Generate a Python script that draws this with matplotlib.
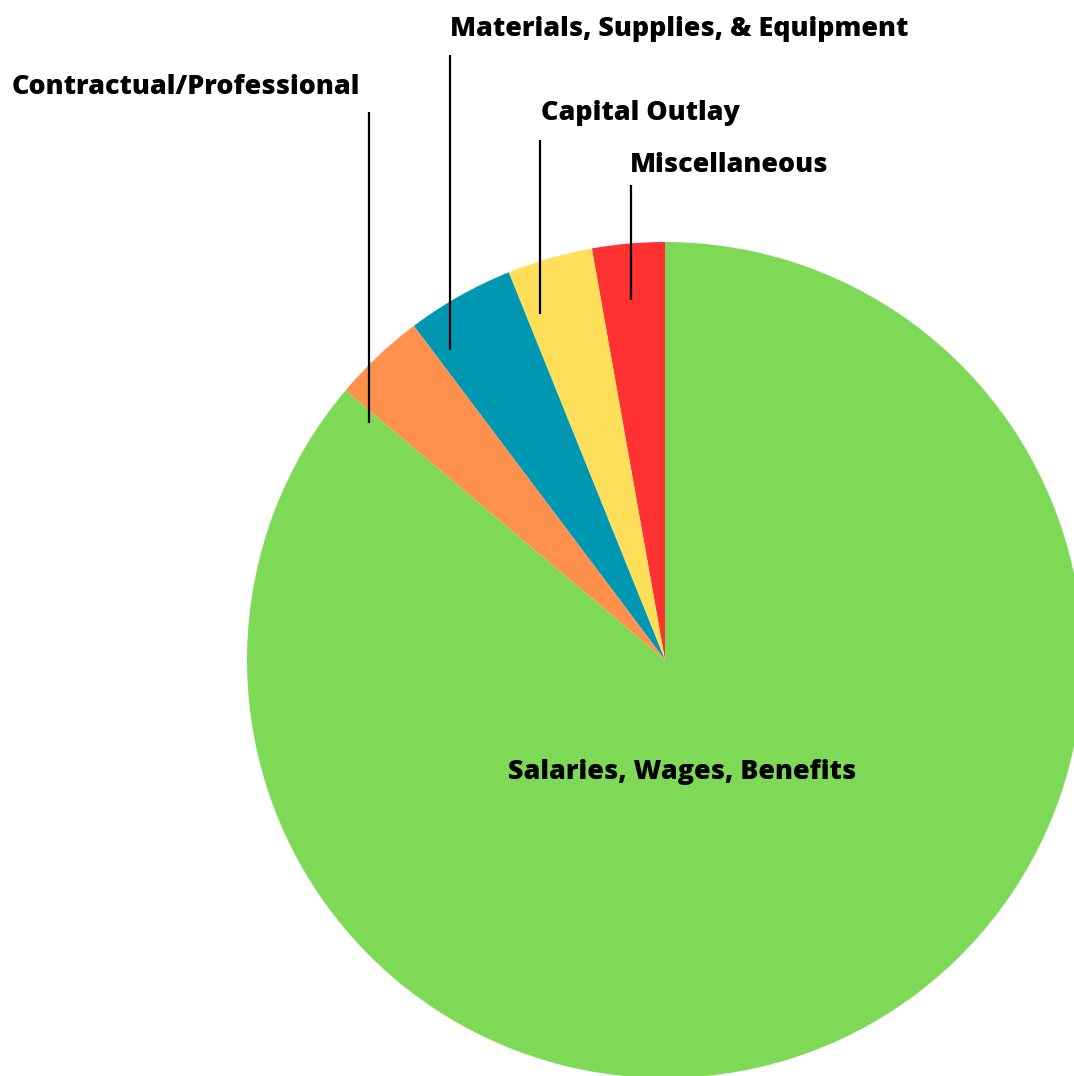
import matplotlib.pyplot as plt

# Budget shares (percent)
CATEGORIES = ['Miscellaneous', 'Capital Outlay', 'Materials, Supplies, & Equipment',
              'Contractual/Professional', 'Salaries, Wages, Benefits']
SHARES = [2.80, 3.30, 4.16, 3.59, 86.15]
COLORS = ['#FF3131', '#FFDE59', '#0097B2', '#FF914D', '#7ED957']

W, H = 1074, 1076
CENTER = (665, 660)   # pixel coords (y from top)
RADIUS = 418

# label text anchor (left, center y) and leader line (x, y_top, y_bottom), in pixels
LABEL_POS = {
    'Miscellaneous': ((630, 165), (631, 185, 300)),
    'Capital Outlay': ((541, 113), (540, 140, 314)),
    'Materials, Supplies, & Equipment': ((450, 29), (450, 55, 350)),
    'Contractual/Professional': ((12, 87), (369, 112, 423)),
}
FONT_SIZE = 19.4


def fy(y):
    return H - y


def main():
    plt.rcParams['font.family'] = ['Open Sans', 'DejaVu Sans']
    fig = plt.figure(figsize=(W / 100, H / 100), dpi=100)
    ax = fig.add_axes([0, 0, 1, 1])

    ax.pie(SHARES, colors=COLORS, startangle=90, counterclock=True,
           center=(CENTER[0], fy(CENTER[1])), radius=RADIUS,
           wedgeprops={'linewidth': 0}, frame=True)
    ax.set_xlim(0, W)
    ax.set_ylim(0, H)
    ax.set_aspect('auto')
    ax.axis('off')

    for name, ((tx, ty), (lx, y0, y1)) in LABEL_POS.items():
        ax.text(tx, fy(ty), name, ha='left', va='center', fontsize=FONT_SIZE,
                fontweight='heavy', color='black')
        ax.plot([lx, lx], [fy(y0), fy(y1)], color='black', lw=1.6,
                solid_capstyle='butt')

    ax.text(682, fy(772), 'Salaries, Wages, Benefits', ha='center', va='center',
            fontsize=FONT_SIZE, fontweight='heavy', color='black')

    fig.savefig('out.png', dpi=100, facecolor='white')
    plt.close()


if __name__ == '__main__':
    main()
